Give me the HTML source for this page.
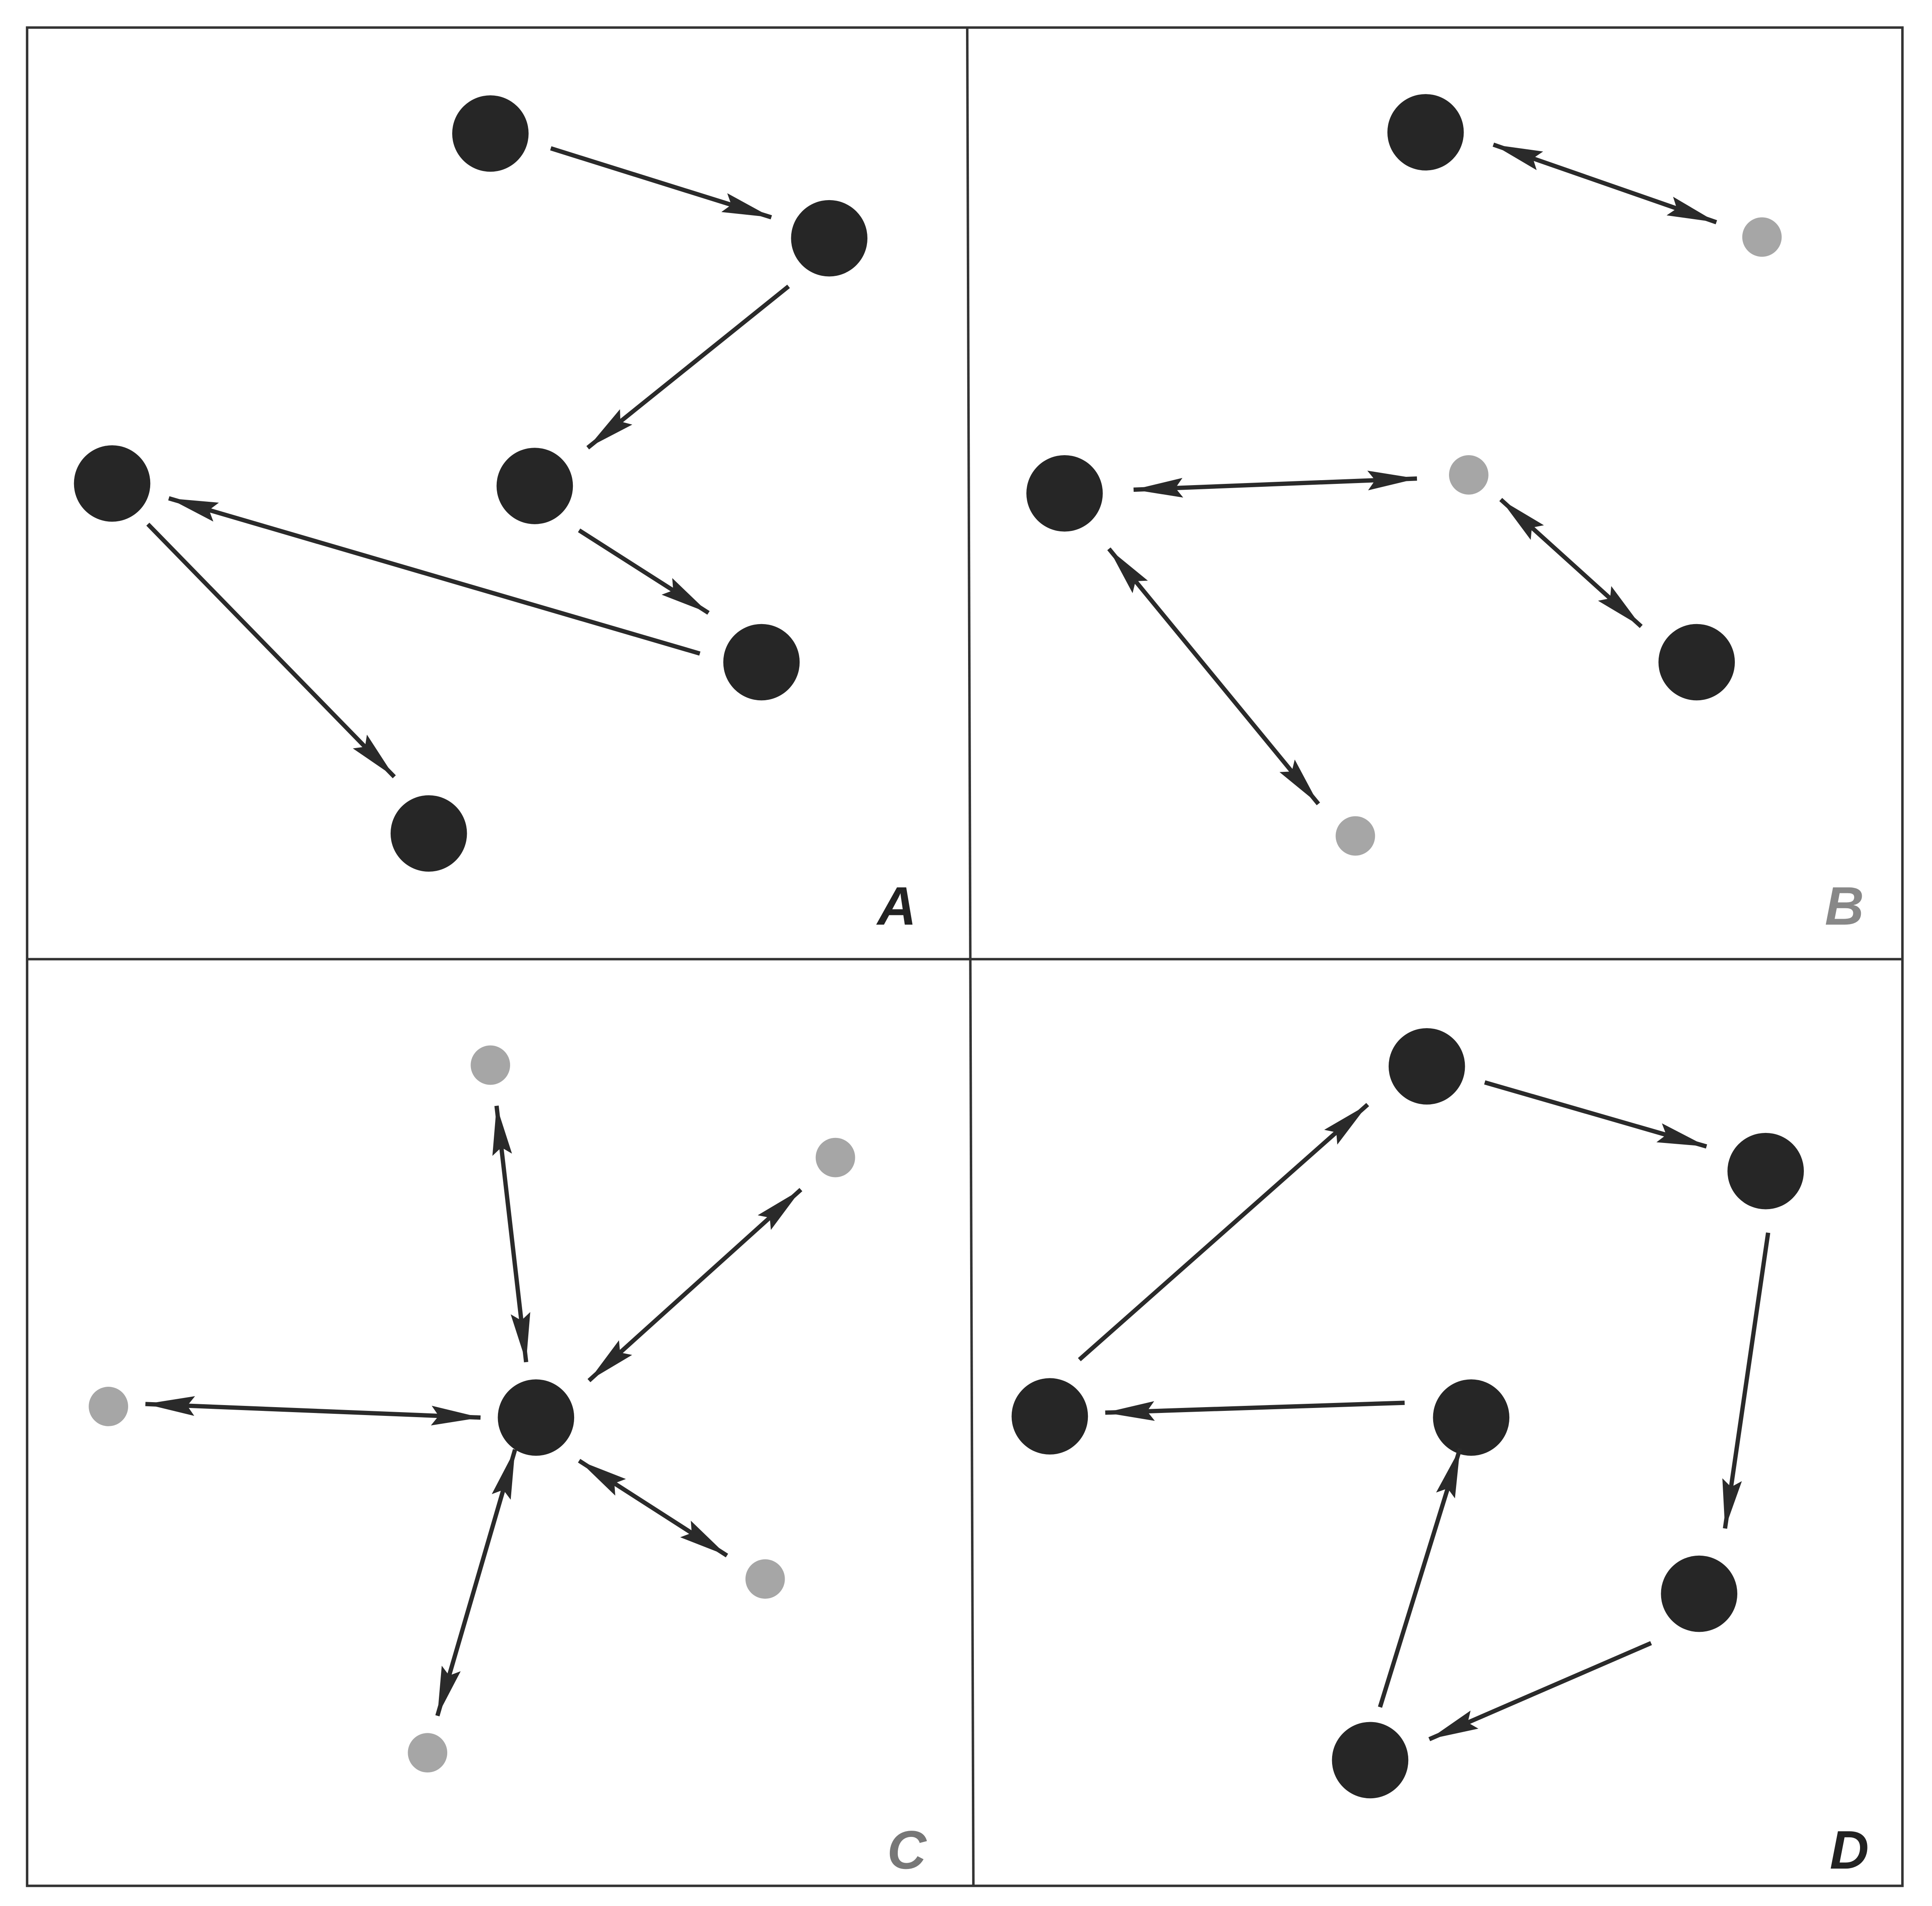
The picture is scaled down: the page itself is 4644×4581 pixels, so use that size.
<!DOCTYPE html>
<html><head><meta charset="utf-8"><style>
html,body{margin:0;padding:0;background:#fff;}
svg{display:block;}
</style></head><body>
<svg width="4644" height="4581" viewBox="0 0 1568 1546" xmlns="http://www.w3.org/2000/svg">
<defs>
<marker id="e" viewBox="0 0 40 16" refX="40" refY="8" markerWidth="40" markerHeight="16" markerUnits="userSpaceOnUse" orient="auto">
<path d="M0,0 L40,8 L0,16 L6,8 Z" fill="#2a2a2a"/>
</marker>
<marker id="s" viewBox="0 0 40 16" refX="0" refY="8" markerWidth="40" markerHeight="16" markerUnits="userSpaceOnUse" orient="auto">
<path d="M40,0 L0,8 L40,16 L34,8 Z" fill="#2a2a2a"/>
</marker>
</defs>
<rect width="1568" height="1546" fill="#fff"/>
<g stroke="#333" stroke-width="2" fill="none">
<rect x="22" y="22" width="1522" height="1508"/>
<line x1="785" y1="22" x2="790" y2="1530"/>
<line x1="22" y1="778" x2="1544" y2="778"/>
</g>
<g fill="#262626">
<circle cx="398" cy="108" r="31"/><circle cx="673" cy="193" r="31"/><circle cx="434" cy="394" r="31"/>
<circle cx="91" cy="392" r="31"/><circle cx="618" cy="537" r="31"/><circle cx="348" cy="676" r="31"/>
<circle cx="1157" cy="107" r="31"/><circle cx="864" cy="400" r="31"/><circle cx="1377" cy="537" r="31"/>
<circle cx="435" cy="1150" r="31"/>
<circle cx="1158" cy="865" r="31"/><circle cx="1433" cy="950" r="31"/><circle cx="852" cy="1149" r="31"/>
<circle cx="1194" cy="1150" r="31"/><circle cx="1379" cy="1293" r="31"/><circle cx="1112" cy="1428" r="31"/>
</g>
<g fill="#a6a6a6">
<circle cx="1430" cy="192" r="16"/><circle cx="1192" cy="385" r="16"/><circle cx="1100" cy="678" r="16"/>
<circle cx="398" cy="864" r="16"/><circle cx="678" cy="939" r="16"/><circle cx="88" cy="1141" r="16"/>
<circle cx="621" cy="1281" r="16"/><circle cx="347" cy="1422" r="16"/>
</g>
<g stroke="#2a2a2a" stroke-width="3.5" fill="none" marker-end="url(#e)">
<line x1="447" y1="120" x2="626" y2="176"/>
<line x1="640" y1="232" x2="477" y2="363"/>
<line x1="470" y1="430" x2="575" y2="497"/>
<line x1="568" y1="530" x2="137" y2="404"/>
<line x1="120" y1="425" x2="320" y2="630"/>
<line x1="876" y1="1103" x2="1110" y2="896"/>
<line x1="1205" y1="878" x2="1385" y2="930"/>
<line x1="1435" y1="1000" x2="1400" y2="1240"/>
<line x1="1340" y1="1333" x2="1160" y2="1411"/>
<line x1="1120" y1="1385" x2="1185" y2="1175"/>
<line x1="1140" y1="1138" x2="897" y2="1146"/>
</g>
<g stroke="#2a2a2a" stroke-width="3.5" fill="none" marker-end="url(#e)" marker-start="url(#s)">
<line x1="1212" y1="117" x2="1393" y2="180"/>
<line x1="920" y1="397" x2="1150" y2="388"/>
<line x1="1218" y1="405" x2="1332" y2="508"/>
<line x1="900" y1="445" x2="1070" y2="652"/>
<line x1="403" y1="897" x2="427" y2="1105"/>
<line x1="650" y1="965" x2="478" y2="1120"/>
<line x1="118" y1="1139" x2="390" y2="1150"/>
<line x1="470" y1="1185" x2="590" y2="1262"/>
<line x1="418" y1="1176" x2="355" y2="1392"/>
</g>
<g font-family="Liberation Sans, sans-serif" font-weight="bold" font-style="italic" font-size="44">
<text x="712" y="750" fill="#222">A</text>
<text x="1481" y="750" fill="#888">B</text>
<text x="720" y="1516" fill="#777">C</text>
<text x="1485" y="1516" fill="#222">D</text>
</g>
</svg>
</body></html>
